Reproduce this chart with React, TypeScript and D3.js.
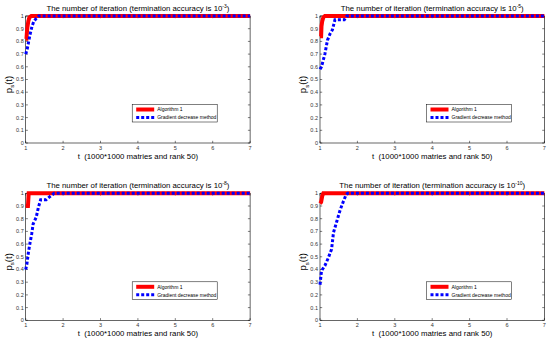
import React, { useEffect, useRef } from 'react';
import * as d3 from 'd3';

// 四个子图：终止精度指数
const exponents = ['-3', '-5', '-8', '-10'];
const xTicks = [1, 2, 3, 4, 5, 6, 7];
const yTicks = [0, 0.1, 0.2, 0.3, 0.4, 0.5, 0.6, 0.7, 0.8, 0.9, 1];
const seriesNames = ['Algorithm 1', 'Gradient decrease method'];

// Algorithm 1 曲线（t, p_s(t)）
const alg1: [number, number][][] = [
  [[1, 0.82], [1.02, 0.82], [1.04, 0.9], [1.07, 0.96], [1.1, 0.99], [1.15, 1], [7, 1]],
  [[1, 0.84], [1.03, 0.84], [1.04, 0.92], [1.06, 0.96], [1.09, 0.99], [1.13, 1], [7, 1]],
  [[1, 0.9], [1.06, 0.9], [1.08, 1], [7, 1]],
  [[1, 0.92], [1.03, 0.93], [1.06, 0.98], [1.09, 1], [7, 1]],
];

// Gradient decrease method 曲线
const grad: [number, number][][] = [
  [[1, 0.7], [1.04, 0.74], [1.08, 0.8], [1.12, 0.86], [1.17, 0.92], [1.22, 0.96], [1.28, 0.98], [1.35, 1], [7, 1]],
  [[1, 0.58], [1.04, 0.6], [1.13, 0.7], [1.2, 0.81], [1.27, 0.86], [1.33, 0.89], [1.4, 0.97], [1.65, 0.97], [1.72, 1], [7, 1]],
  [[1, 0.4], [1.03, 0.44], [1.07, 0.53], [1.11, 0.6], [1.16, 0.68], [1.2, 0.76], [1.28, 0.81], [1.34, 0.89], [1.4, 0.95], [1.55, 0.95], [1.63, 0.97], [1.76, 1], [7, 1]],
  [[1, 0.28], [1.04, 0.39], [1.13, 0.43], [1.22, 0.49], [1.31, 0.56], [1.36, 0.69], [1.45, 0.78], [1.54, 0.87], [1.63, 0.94], [1.7, 0.99], [1.74, 1], [7, 1]],
];

const W = 550, H = 341;
const origins = [[0, 0], [294.3, 0], [0, 177.3], [294.3, 177.3]];

const App: React.FC = () => {
  const svgRef = useRef<SVGSVGElement>(null);

  useEffect(() => {
    if (!svgRef.current) return;
    const svg = d3.select(svgRef.current);
    svg.selectAll('*').remove();
    svg.append('rect').attr('width', W).attr('height', H).attr('fill', '#fff');

    const ml = 25.7, mt = 16, pw = 224.4, ph = 127;
    const font = 'Liberation Sans, Arial, sans-serif';

    origins.forEach(([ox, oy], i) => {
      const g = svg.append('g').attr('transform', `translate(${ox + ml},${oy + mt})`);
      const x = d3.scaleLinear().domain([1, 7]).range([0, pw]);
      const y = d3.scaleLinear().domain([0, 1]).range([ph, 0]);

      // 坐标框
      g.append('rect').attr('width', pw).attr('height', ph)
        .attr('fill', '#fff').attr('stroke', '#000').attr('stroke-width', 0.6);

      // 刻度（四边向内）
      const tl = 2.2;
      yTicks.forEach(v => {
        g.append('line').attr('x1', 0).attr('x2', tl).attr('y1', y(v)).attr('y2', y(v)).attr('stroke', '#000').attr('stroke-width', 0.5);
        g.append('line').attr('x1', pw).attr('x2', pw - tl).attr('y1', y(v)).attr('y2', y(v)).attr('stroke', '#000').attr('stroke-width', 0.5);
        g.append('text').attr('x', -2).attr('y', y(v)).attr('dy', '0.35em')
          .attr('text-anchor', 'end').attr('font-size', 5.5).attr('font-family', font).attr('fill', '#333')
          .text(String(v));
      });
      xTicks.forEach(v => {
        g.append('line').attr('x1', x(v)).attr('x2', x(v)).attr('y1', ph).attr('y2', ph - tl).attr('stroke', '#000').attr('stroke-width', 0.5);
        g.append('line').attr('x1', x(v)).attr('x2', x(v)).attr('y1', 0).attr('y2', tl).attr('stroke', '#000').attr('stroke-width', 0.5);
        g.append('text').attr('x', x(v)).attr('y', ph + 7)
          .attr('text-anchor', 'middle').attr('font-size', 5.5).attr('font-family', font).attr('fill', '#333')
          .text(String(v));
      });

      const line = d3.line<[number, number]>().x(d => x(d[0])).y(d => y(d[1]));
      g.append('path').attr('d', line(alg1[i])!).attr('fill', 'none')
        .attr('stroke', '#ff0000').attr('stroke-width', 4);
      g.append('path').attr('d', line(grad[i])!).attr('fill', 'none')
        .attr('stroke', '#0000ff').attr('stroke-width', 3).attr('stroke-dasharray', '3,2');

      // 标题
      const t = g.append('text').attr('x', pw / 2).attr('y', -5.5).attr('text-anchor', 'middle')
        .attr('font-size', 7.8).attr('font-family', font).attr('fill', '#000');
      t.append('tspan').text('The number of iteration (termination accuracy is 10');
      t.append('tspan').attr('dy', -3).attr('font-size', 5).text(exponents[i]);
      t.append('tspan').attr('dy', 3).text(')');

      // x 轴标题
      g.append('text').attr('x', pw / 2).attr('y', ph + 15.5).attr('text-anchor', 'middle')
        .attr('font-size', 7.8).attr('font-family', font).attr('fill', '#000')
        .attr('xml:space', 'preserve')
        .text('t  (1000*1000 matries and rank 50)');

      // y 轴标题
      const yl = g.append('text').attr('transform', `translate(${-14},${ph / 2 + 5}) rotate(-90)`)
        .attr('text-anchor', 'middle').attr('font-size', 9.5).attr('font-family', font).attr('fill', '#000');
      yl.append('tspan').text('p');
      yl.append('tspan').attr('dy', 2.5).attr('font-size', 6).text('s');
      yl.append('tspan').attr('dy', -2.5).text('(t)');

      // 图例
      const lx = x(1) + 106.5, ly = y(1) + 88.5;
      const leg = g.append('g').attr('transform', `translate(${lx},${ly})`);
      leg.append('rect').attr('width', 85).attr('height', 17.5)
        .attr('fill', '#fff').attr('stroke', '#000').attr('stroke-width', 0.5);
      seriesNames.forEach((name, k) => {
        const yy = 5 + k * 8;
        leg.append('line').attr('x1', 4).attr('x2', 22).attr('y1', yy).attr('y2', yy)
          .attr('stroke', k === 0 ? '#ff0000' : '#0000ff')
          .attr('stroke-width', k === 0 ? 4 : 3)
          .attr('stroke-dasharray', k === 0 ? null : '3,2');
        leg.append('text').attr('x', 25).attr('y', yy).attr('dy', '0.35em')
          .attr('font-size', 5).attr('font-family', font).attr('fill', '#000').text(name);
      });
    });
  }, []);

  return (
    <svg ref={svgRef} width={W} height={H}
      style={{ position: 'absolute', left: 0, top: 0, display: 'block' }} />
  );
};

export default App;
